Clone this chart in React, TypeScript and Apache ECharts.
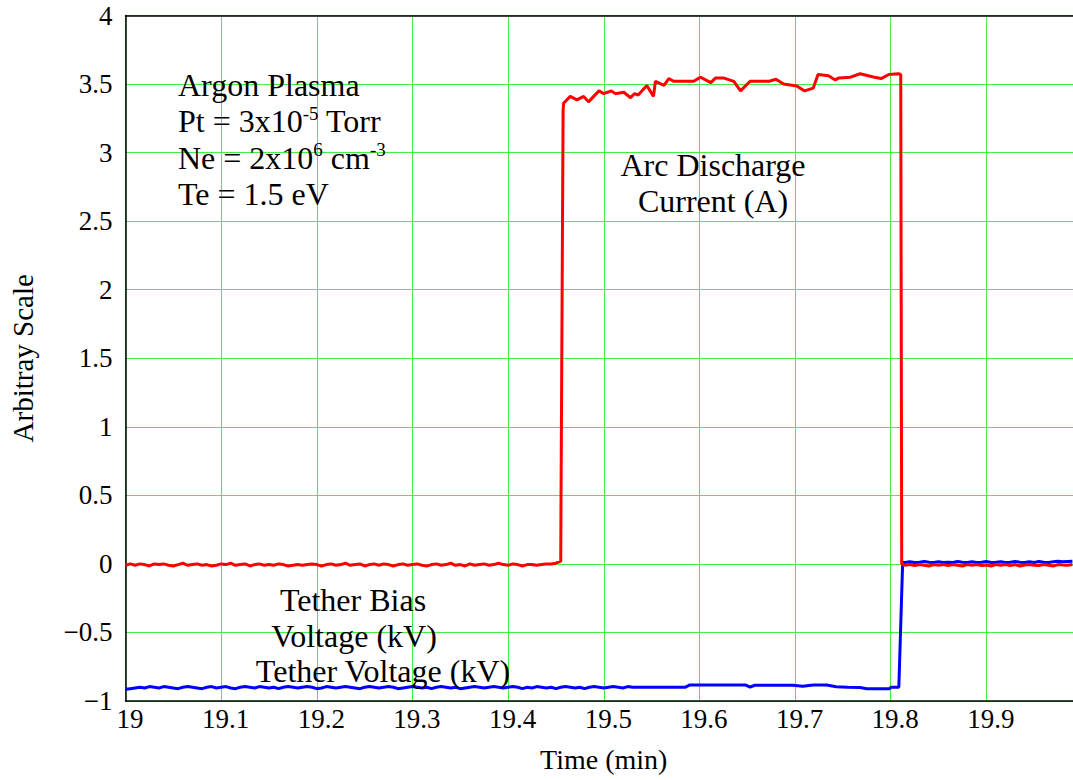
import React, { useEffect, useRef } from "react";
import * as echarts from "echarts";

// ---- Data ----
const xTicks = [19, 19.1, 19.2, 19.3, 19.4, 19.5, 19.6, 19.7, 19.8, 19.9];
const yTicks = [-1, -0.5, 0, 0.5, 1, 1.5, 2, 2.5, 3, 3.5, 4];
const sampleStep = 0.005;

// Arc discharge current (A) — sampled from 19.000 min every 0.005 min
const currentBeforeStart = 19.0;
const currentBefore = [
  -0.01, 0.0, -0.01, 0.0, -0.005, -0.015, 0.0, -0.005, 0.0, -0.01,
  -0.015, -0.005, 0.005, -0.01, -0.005, 0.0, -0.01, -0.005, -0.015, -0.01,
  0.0, -0.005, 0.005, -0.01, -0.005, 0.0, -0.015, -0.005, 0.0, -0.01,
  -0.005, -0.01, 0.0, -0.005, -0.015, -0.01, -0.005, -0.01, -0.005, 0.0,
  -0.005, -0.015, -0.005, 0.0, -0.01, -0.005, 0.005, -0.01, -0.005, 0.0,
  -0.015, -0.005, 0.0, -0.01, 0.0, -0.005, -0.015, -0.005, 0.0, -0.01,
  -0.005, 0.0, -0.01, -0.015, -0.005, 0.0, -0.01, -0.005, 0.005, -0.01,
  -0.005, -0.015, 0.0, -0.01, -0.005, 0.0, -0.01, -0.005, 0.005, -0.005,
  -0.01, 0.0, -0.005, -0.015, -0.005, -0.005, -0.01, -0.005, 0.0, 0.0, 0.005,
];
const currentArcTimes = [
  19.455, 19.4575, 19.458, 19.465, 19.472, 19.479, 19.484, 19.495, 19.5, 19.508,
  19.512, 19.521, 19.528, 19.532, 19.536, 19.545, 19.552, 19.554, 19.563, 19.568,
  19.573, 19.594, 19.601, 19.612, 19.617, 19.625, 19.636, 19.643, 19.653, 19.673,
  19.68, 19.688, 19.702, 19.71, 19.719, 19.724, 19.735, 19.742, 19.746, 19.758,
  19.768, 19.783, 19.79, 19.798, 19.808, 19.8105, 19.8115,
];
const currentArcValues = [
  0.02, 3.3, 3.36, 3.41, 3.385, 3.41, 3.37, 3.45, 3.43, 3.45,
  3.43, 3.44, 3.4, 3.43, 3.42, 3.49, 3.41, 3.52, 3.49, 3.54,
  3.52, 3.52, 3.55, 3.51, 3.545, 3.545, 3.52, 3.45, 3.52, 3.52,
  3.535, 3.5, 3.485, 3.45, 3.47, 3.57, 3.56, 3.53, 3.545, 3.55,
  3.575, 3.55, 3.54, 3.57, 3.575, 3.57, 0.0,
];
const currentAfterStart = 19.815;
const currentAfter = [
  -0.01, -0.005, -0.012, -0.005, -0.01, -0.015, -0.005, -0.01, -0.005, -0.012,
  -0.005, -0.01, -0.015, -0.005, -0.01, -0.005, -0.012, -0.008, -0.015, -0.005,
  -0.01, -0.005, -0.012, -0.005, -0.015, -0.008, -0.005, -0.01, -0.012, -0.005,
  -0.01, -0.015, -0.005, -0.008, -0.01, -0.005,
];

// Tether bias voltage (kV)
const voltageBeforeStart = 19.0;
const voltageBefore = [
  -0.915, -0.91, -0.905, -0.9, -0.905, -0.895, -0.9, -0.905, -0.895, -0.9,
  -0.905, -0.91, -0.9, -0.895, -0.9, -0.905, -0.91, -0.9, -0.895, -0.905,
  -0.9, -0.895, -0.905, -0.91, -0.9, -0.895, -0.9, -0.905, -0.895, -0.9,
  -0.905, -0.9, -0.91, -0.9, -0.895, -0.9, -0.905, -0.9, -0.895, -0.9,
  -0.91, -0.905, -0.895, -0.9, -0.905, -0.9, -0.895, -0.9, -0.905, -0.91,
  -0.9, -0.895, -0.9, -0.905, -0.9, -0.895, -0.9, -0.91, -0.905, -0.9,
  -0.895, -0.9, -0.905, -0.9, -0.91, -0.9, -0.895, -0.9, -0.905, -0.9,
  -0.91, -0.905, -0.9, -0.895, -0.9, -0.905, -0.9, -0.895, -0.9, -0.905,
  -0.9, -0.895, -0.9, -0.91, -0.9, -0.905, -0.895, -0.9, -0.905, -0.9,
  -0.91, -0.9, -0.895, -0.9, -0.905, -0.9, -0.91, -0.9, -0.895, -0.9,
  -0.905, -0.9, -0.895, -0.9, -0.905, -0.895, -0.9, -0.9, -0.9, -0.9,
];
const voltageStepTimes = [
  19.55, 19.56, 19.575, 19.585, 19.59, 19.648, 19.653, 19.658, 19.698, 19.708,
  19.719, 19.733, 19.743, 19.755, 19.768, 19.775, 19.799, 19.8, 19.8085, 19.8125,
];
const voltageStepValues = [
  -0.9, -0.9, -0.9, -0.9, -0.883, -0.883, -0.898, -0.885, -0.885, -0.893,
  -0.884, -0.884, -0.896, -0.9, -0.902, -0.91, -0.91, -0.9, -0.9, 0.01,
];
const voltageAfterStart = 19.815;
const voltageAfter = [
  0.01, 0.015, 0.01, 0.012, 0.018, 0.012, 0.01, 0.015, 0.01, 0.012,
  0.01, 0.018, 0.012, 0.01, 0.015, 0.01, 0.012, 0.018, 0.01, 0.012,
  0.015, 0.01, 0.012, 0.018, 0.012, 0.01, 0.015, 0.01, 0.018, 0.012,
  0.01, 0.015, 0.02, 0.015, 0.018, 0.02,
];

const FONT = "Liberation Serif, Times New Roman, Times, serif";

function sampled(start: number, values: number[]): [number, number][] {
  return values.map((v, i) => [+(start + i * sampleStep).toFixed(4), v]);
}
function paired(times: number[], values: number[]): [number, number][] {
  return times.map((t, i) => [t, values[i]]);
}

export default function App() {
  const ref = useRef<HTMLDivElement>(null);
  useEffect(() => {
    if (!ref.current) return;
    const chart = echarts.init(ref.current, null, { renderer: "svg" });

    const currentData = [
      ...sampled(currentBeforeStart, currentBefore),
      ...paired(currentArcTimes, currentArcValues),
      ...sampled(currentAfterStart, currentAfter),
    ];
    const voltageData = [
      ...sampled(voltageBeforeStart, voltageBefore),
      ...paired(voltageStepTimes, voltageStepValues),
      ...sampled(voltageAfterStart, voltageAfter),
    ];

    const ann = (x: number, y: number, text: string, align: string) => ({
      type: "text",
      x,
      y,
      z: 100,
      style: {
        text,
        fill: "#000",
        font: `32px ${FONT}`,
        textAlign: align,
        textVerticalAlign: "middle",
        lineHeight: 35,
        rich: {
          s: {
            fontSize: 19,
            fontFamily: FONT,
            verticalAlign: "top",
            lineHeight: 19,
            fill: "#000",
          },
        },
      },
    });

    chart.setOption({
      animation: false,
      backgroundColor: "#fff",
      textStyle: { fontFamily: FONT },
      grid: { left: 125.5, top: 15.5, right: 0, bottom: 79, containLabel: false },
      xAxis: [
        {
          type: "value",
          min: xTicks[0],
          max: 20,
          interval: 0.1,
          position: "bottom",
          name: "Time (min)",
          nameLocation: "middle",
          nameGap: 44,
          nameTextStyle: { fontFamily: FONT, fontSize: 28, color: "#000" },
          axisLine: { show: true, onZero: false, lineStyle: { color: "#000", width: 1.5 } },
          axisTick: { show: false },
          splitLine: { show: true, lineStyle: { color: "#44ee44", width: 1 } },
          axisLabel: {
            fontFamily: FONT,
            fontSize: 27,
            color: "#000",
            margin: 4,
            padding: [0, 0, 0, 9],
            showMaxLabel: false,
            formatter: (v: number) => {
              const t = xTicks.find((k) => Math.abs(k - v) < 1e-6);
              return t === undefined ? "" : String(t);
            },
          },
        },
        {
          type: "value",
          min: xTicks[0],
          max: 20,
          position: "top",
          axisLine: { show: true, onZero: false, lineStyle: { color: "#000", width: 1.5 } },
          axisTick: { show: false },
          axisLabel: { show: false },
          splitLine: { show: false },
        },
      ],
      yAxis: {
        type: "value",
        min: yTicks[0],
        max: yTicks[yTicks.length - 1],
        interval: 0.5,
        name: "Arbitray Scale",
        nameLocation: "middle",
        nameGap: 88,
        nameTextStyle: { fontFamily: FONT, fontSize: 29, color: "#000" },
        axisLine: { show: true, onZero: false, lineStyle: { color: "#000", width: 1.5 } },
        axisTick: { show: false },
        splitLine: { show: true, lineStyle: { color: "#44ee44", width: 1 } },
        axisLabel: {
          fontFamily: FONT,
          fontSize: 27,
          color: "#000",
          margin: 13,
          formatter: (v: number) => String(v).replace("-", "\u2212"),
        },
      },
      series: [
        {
          name: "Tether Voltage (kV)",
          type: "line",
          data: voltageData,
          showSymbol: false,
          lineStyle: { color: "#0000ff", width: 3 },
          itemStyle: { color: "#0000ff" },
          z: 3,
        },
        {
          name: "Arc Discharge Current (A)",
          type: "line",
          data: currentData,
          showSymbol: false,
          lineStyle: { color: "#ff0000", width: 3 },
          itemStyle: { color: "#ff0000" },
          z: 4,
        },
      ],
      graphic: [
        ann(178, 85, "Argon Plasma", "left"),
        ann(178, 121, "Pt = 3x10{s|-5} Torr", "left"),
        ann(178, 157.5, "Ne = 2x10{s|6} cm{s|-3}", "left"),
        ann(178, 193.5, "Te = 1.5 eV", "left"),
        ann(713, 164.5, "Arc Discharge", "center"),
        ann(713, 201, "Current (A)", "center"),
        ann(353, 600, "Tether Bias", "center"),
        ann(354, 635.5, "Voltage (kV)", "center"),
        ann(383, 671, "Tether Voltage (kV)", "center"),
      ],
    });
    return () => chart.dispose();
  }, []);

  return (
    <div style={{ position: "absolute", left: 0, top: 0, width: 1073, height: 780, overflow: "hidden" }}>
      <div ref={ref} style={{ width: 1081.5, height: 780 }} />
    </div>
  );
}
